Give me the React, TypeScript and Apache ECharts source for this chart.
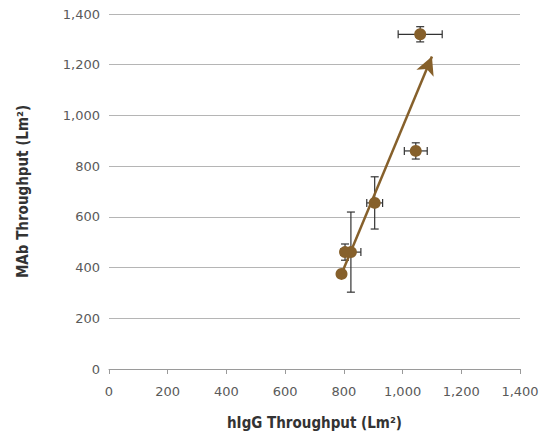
import React, { useEffect, useRef } from "react";
import * as echarts from "echarts";

const xValues = [1060, 1045, 905, 824, 804, 792];
const yValues = [1320, 860, 655, 461, 461, 375];
const xErrors = [75, 39, 27, 34, 0, 0];
const yErrors = [30, 32, 103, 158, 32, 0];
const arrowStart = [792, 375];
const arrowEnd = [1100, 1232];
const xAxisTitle = "hIgG Throughput (Lm²)";
const yAxisTitle = "MAb Throughput (Lm²)";

const BROWN = "#86602b";

export default function App() {
  const ref = useRef<HTMLDivElement>(null);
  useEffect(() => {
    if (!ref.current) return;
    const chart = echarts.init(ref.current, undefined, { renderer: "svg" });
    const points = xValues.map((x, i) => [x, yValues[i]]);
    const errData = xValues.map((x, i) => [x, yValues[i], xErrors[i], yErrors[i]]);
    const cap = 4;
    const labelStyle = {
      fontFamily: "DejaVu Sans",
      fontSize: 13,
      color: "#5a5a5a",
      formatter: (v: number) => v.toLocaleString("en-US"),
    };
    chart.setOption({
      animation: false,
      grid: { left: 109, right: 22, top: 14, bottom: 70 },
      xAxis: {
        type: "value",
        min: 0,
        max: 1400,
        interval: 200,
        name: xAxisTitle,
        nameLocation: "middle",
        nameGap: 46,
        nameTextStyle: { fontFamily: "DejaVu Sans Condensed", fontWeight: "bold", fontSize: 15, color: "#333" },
        axisLine: { show: true, lineStyle: { color: "#9a9a9a", width: 1 } },
        axisTick: { show: true, length: 5, lineStyle: { color: "#9a9a9a" } },
        splitLine: { show: false },
        axisLabel: { ...labelStyle, margin: 16 },
      },
      yAxis: {
        type: "value",
        min: 0,
        max: 1400,
        interval: 200,
        name: yAxisTitle,
        nameLocation: "middle",
        nameGap: 79,
        nameTextStyle: { fontFamily: "DejaVu Sans Condensed", fontWeight: "bold", fontSize: 15, color: "#333" },
        axisLine: { show: false },
        axisTick: { show: false },
        splitLine: { show: true, lineStyle: { color: "#b5b5b5", width: 1 } },
        axisLabel: { ...labelStyle, margin: 9 },
      },
      series: [
        {
          type: "custom",
          z: 3,
          data: errData,
          renderItem: (params: any, api: any) => {
            const x = api.value(0);
            const y = api.value(1);
            const ex = api.value(2);
            const ey = api.value(3);
            const children: any[] = [];
            const st = { stroke: "#333", lineWidth: 1.2 };
            if (ey > 0) {
              const top = api.coord([x, y + ey]);
              const bot = api.coord([x, y - ey]);
              children.push({ type: "line", shape: { x1: top[0], y1: top[1], x2: bot[0], y2: bot[1] }, style: st });
              children.push({ type: "line", shape: { x1: top[0] - cap, y1: top[1], x2: top[0] + cap, y2: top[1] }, style: st });
              children.push({ type: "line", shape: { x1: bot[0] - cap, y1: bot[1], x2: bot[0] + cap, y2: bot[1] }, style: st });
            }
            if (ex > 0) {
              const l = api.coord([x - ex, y]);
              const r = api.coord([x + ex, y]);
              children.push({ type: "line", shape: { x1: l[0], y1: l[1], x2: r[0], y2: r[1] }, style: st });
              children.push({ type: "line", shape: { x1: l[0], y1: l[1] - cap, x2: l[0], y2: l[1] + cap }, style: st });
              children.push({ type: "line", shape: { x1: r[0], y1: r[1] - cap, x2: r[0], y2: r[1] + cap }, style: st });
            }
            return { type: "group", children };
          },
        },
        {
          type: "scatter",
          z: 4,
          data: points,
          symbol: "circle",
          symbolSize: 12,
          itemStyle: { color: BROWN, opacity: 1 },
          markLine: {
            silent: true,
            z: 5,
            label: { show: false },
            lineStyle: { color: BROWN, width: 2.5, type: "solid" },
            data: [
              [
                { coord: arrowStart, symbol: "none" },
                { coord: arrowEnd, symbol: "arrow", symbolSize: [14, 18] },
              ],
            ],
          },
        },
      ],
    });
    return () => chart.dispose();
  }, []);
  return (
    <div
      ref={ref}
      style={{ position: "absolute", left: 0, top: 0, width: 542, height: 439 }}
    />
  );
}
